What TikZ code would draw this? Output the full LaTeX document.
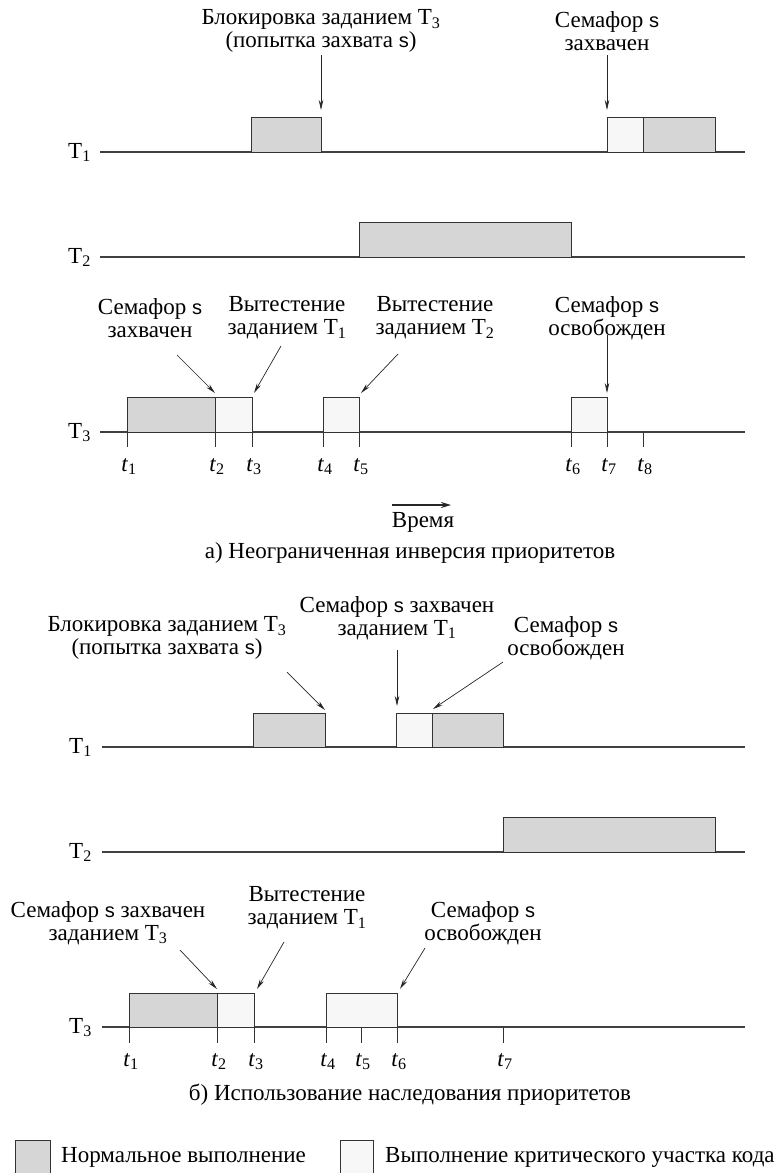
\documentclass[tikz,border=0pt]{standalone}
\usepackage{fontspec}
\setmainfont{Liberation Serif}
\setsansfont{Liberation Sans}
\usetikzlibrary{arrows.meta, positioning}
\newcommand{\semvar}{{\sffamily\fontsize{20}{23}\selectfont s}}

\begin{document}
\begin{tikzpicture}[
    x=1pt, y=-1pt,
    font=\fontsize{23}{23}\selectfont,
    normbox/.style={draw=black!80, fill=black!16, line width=0.8pt},
    critbox/.style={draw=black!80, fill=black!3, line width=0.8pt},
    taskline/.style={draw=black!75, line width=1.4pt},
    tickmark/.style={draw=black!80, line width=0.8pt},
    note/.style={align=center, inner sep=0pt},
    tasklbl/.style={anchor=base east, inner sep=0pt},
    ticklbl/.style={anchor=base, inner sep=0pt},
    pointer/.style={-{Stealth[length=10pt, width=4.5pt]}, draw=black!85, line width=0.7pt},
    timearrow/.style={-{Stealth[length=10pt, width=6pt]}, draw=black!85, line width=2pt}
]
\useasboundingbox (0,0) rectangle (776,1173);

\node[tasklbl] (a-T1) at (91,158) {T\textsubscript{1}};
\node[tasklbl] (a-T2) at (91,263) {T\textsubscript{2}};
\node[tasklbl] (a-T3) at (91,438) {T\textsubscript{3}};
\draw[taskline] (100,152) -- (745,152);
\draw[taskline] (100,257) -- (745,257);
\draw[taskline] (100,432) -- (745,432);
\draw[normbox] (251,117) rectangle (321,152);
\draw[critbox] (607,117) rectangle (643,152);
\draw[normbox] (643,117) rectangle (715,152);
\draw[normbox] (359,222) rectangle (571,257);
\draw[normbox] (127,397) rectangle (215,432);
\draw[critbox] (215,397) rectangle (252,432);
\draw[critbox] (323,397) rectangle (359,432);
\draw[critbox] (571,397) rectangle (607,432);
\draw[tickmark] (127,432) -- (127,447);
\draw[tickmark] (215,432) -- (215,447);
\draw[tickmark] (252,432) -- (252,447);
\draw[tickmark] (323,432) -- (323,447);
\draw[tickmark] (359,432) -- (359,447);
\draw[tickmark] (571,432) -- (571,447);
\draw[tickmark] (607,432) -- (607,447);
\draw[tickmark] (643,432) -- (643,447);
\node[ticklbl] (a-x1) at (129,471) {\textit{t}\textsubscript{1}};
\node[ticklbl] (a-x2) at (217,471) {\textit{t}\textsubscript{2}};
\node[ticklbl] (a-x3) at (254,471) {\textit{t}\textsubscript{3}};
\node[ticklbl] (a-x4) at (325,471) {\textit{t}\textsubscript{4}};
\node[ticklbl] (a-x5) at (361,471) {\textit{t}\textsubscript{5}};
\node[ticklbl] (a-x6) at (573,471) {\textit{t}\textsubscript{6}};
\node[ticklbl] (a-x7) at (609,471) {\textit{t}\textsubscript{7}};
\node[ticklbl] (a-x8) at (645,471) {\textit{t}\textsubscript{8}};

\node[note] (a-block) at (321,31) {Блокировка заданием T\textsubscript{3}\\(попытка захвата \semvar)};
\node[note] (a-take1) at (607,31) {Семафор \semvar\\захвачен};
\node[note] (a-take3) at (150,318) {Семафор \semvar\\захвачен};
\node[note] (a-pre1) at (287,318) {Вытестение\\заданием T\textsubscript{1}};
\node[note] (a-pre2) at (435,318) {Вытестение\\заданием T\textsubscript{2}};
\node[note] (a-free) at (607,318) {Семафор \semvar\\освобожден};
\coordinate (a-h1) at (321,110);
\coordinate (a-h2) at (607,110);
\coordinate (a-h3) at (215,393);
\coordinate (a-h4) at (254,393);
\coordinate (a-h5) at (361,393);
\coordinate (a-h6) at (607,393);
\draw[pointer] ([shift={(0,24)}]a-block.center) -- (a-h1);
\draw[pointer] ([shift={(0,24)}]a-take1.center) -- (a-h2);
\draw[pointer] ([shift={(27,37)}]a-take3.center) -- (a-h3);
\draw[pointer] ([shift={(-6,28)}]a-pre1.center) -- (a-h4);
\draw[pointer] ([shift={(-37,36)}]a-pre2.center) -- (a-h5);
\draw[pointer] ([shift={(0,17)}]a-free.center) -- (a-h6);

\node (time) at (423,522) {Время};
\draw[timearrow] ([shift={(-31,-17)}]time.center) -- ([shift={(28,-17)}]time.center);
\node (cap-a) at (410,553) {а) Неограниченная инверсия приоритетов};

\node[tasklbl] (b-T1) at (92,753) {T\textsubscript{1}};
\node[tasklbl] (b-T2) at (92,858) {T\textsubscript{2}};
\node[tasklbl] (b-T3) at (92,1033) {T\textsubscript{3}};
\draw[taskline] (102,747) -- (745,747);
\draw[taskline] (102,852) -- (745,852);
\draw[taskline] (102,1027) -- (745,1027);
\draw[normbox] (253,713) rectangle (325,747);
\draw[critbox] (396,713) rectangle (432,747);
\draw[normbox] (432,713) rectangle (503,747);
\draw[normbox] (503,817) rectangle (715,852);
\draw[normbox] (129,993) rectangle (217,1027);
\draw[critbox] (217,993) rectangle (254,1027);
\draw[critbox] (326,993) rectangle (397,1027);
\draw[tickmark] (129,1027) -- (129,1043);
\draw[tickmark] (217,1027) -- (217,1043);
\draw[tickmark] (254,1027) -- (254,1043);
\draw[tickmark] (326,1027) -- (326,1043);
\draw[tickmark] (361,1027) -- (361,1043);
\draw[tickmark] (397,1027) -- (397,1043);
\draw[tickmark] (503,1027) -- (503,1043);
\node[ticklbl] (b-x1) at (131,1066) {\textit{t}\textsubscript{1}};
\node[ticklbl] (b-x2) at (219,1066) {\textit{t}\textsubscript{2}};
\node[ticklbl] (b-x3) at (256,1066) {\textit{t}\textsubscript{3}};
\node[ticklbl] (b-x4) at (328,1066) {\textit{t}\textsubscript{4}};
\node[ticklbl] (b-x5) at (363,1066) {\textit{t}\textsubscript{5}};
\node[ticklbl] (b-x6) at (399,1066) {\textit{t}\textsubscript{6}};
\node[ticklbl] (b-x7) at (505,1066) {\textit{t}\textsubscript{7}};

\node[note] (b-block) at (167,638) {Блокировка заданием T\textsubscript{3}\\(попытка захвата \semvar)};
\node[note] (b-take1) at (397,618) {Семафор \semvar\ захвачен\\заданием T\textsubscript{1}};
\node[note] (b-free1) at (566,638) {Семафор \semvar\\освобожден};
\node[note] (b-take3) at (108,923) {Семафор \semvar\ захвачен\\заданием T\textsubscript{3}};
\node[note] (b-pre1) at (307,908) {Вытестение\\заданием T\textsubscript{1}};
\node[note] (b-free3) at (483,923) {Семафор \semvar\\освобожден};
\coordinate (b-h1) at (325,710);
\coordinate (b-h2) at (397,706);
\coordinate (b-h3) at (433,709);
\coordinate (b-h4) at (217,989);
\coordinate (b-h5) at (257,989);
\coordinate (b-h6) at (400,989);
\draw[pointer] ([shift={(120,34)}]b-block.center) -- (b-h1);
\draw[pointer] ([shift={(0,32)}]b-take1.center) -- (b-h2);
\draw[pointer] ([shift={(-63,24)}]b-free1.center) -- (b-h3);
\draw[pointer] ([shift={(72,27)}]b-take3.center) -- (b-h4);
\draw[pointer] ([shift={(-23,34)}]b-pre1.center) -- (b-h5);
\draw[pointer] ([shift={(-58,25)}]b-free3.center) -- (b-h6);

\node (cap-b) at (410,1095) {б) Использование наследования приоритетов};

\draw[normbox] (15,1140) rectangle (50,1174);
\draw[critbox] (340,1140) rectangle (373,1174);
\node[anchor=west, inner sep=0pt] (leg-n) at (61,1157) {Нормальное выполнение};
\node[anchor=west, inner sep=0pt] (leg-c) at (385,1157) {Выполнение критического участка кода};
\end{tikzpicture}
\end{document}
